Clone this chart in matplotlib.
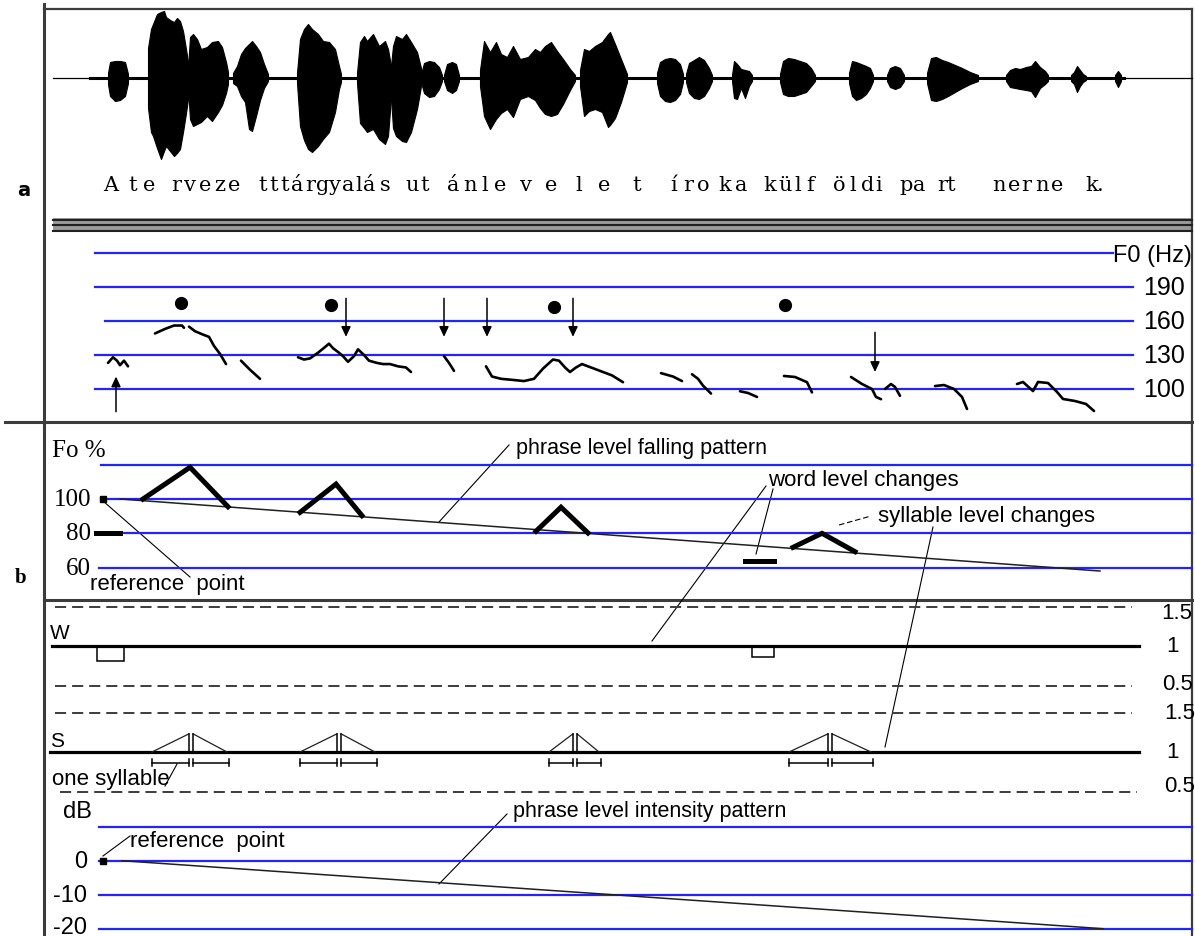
import matplotlib.pyplot as plt
from matplotlib.patches import Rectangle

plt.rcParams['lines.scale_dashes'] = False
plt.rcParams['font.family'] = ['Liberation Sans', 'DejaVu Sans']

W, H = 1195, 937
BLUE = '#2323ff'
GREY = '#3c3c3c'

### panel a: speech waveform, one envelope per burst (x = time in px, amplitude up / down) ###
bursts = [
    ([108, 110, 115, 120, 125, 128], [5, 16, 17, 17, 16, 4], [-6, -18, -23, -22, -18, -5]),
    ([148, 151, 153, 157, 161, 164, 166, 170, 174, 177, 180, 183, 186, 188],
     [30, 49, 54, 64, 66, 67, 61, 58, 56, 60, 57, 47, 29, 16],
     [-30, -54, -58, -70, -81, -73, -68, -73, -78, -75, -71, -54, -35, -21]),
    ([188, 190, 193, 197, 201, 207, 212, 218, 222, 226, 228],
     [10, 41, 44, 39, 29, 31, 36, 37, 31, 16, 6],
     [-10, -41, -48, -46, -44, -38, -43, -34, -27, -15, -6]),
    ([233, 237, 241, 245, 249, 252, 256, 260, 264, 268],
     [5, 12, 24, 30, 34, 37, 32, 26, 14, 4],
     [-5, -8, -18, -24, -51, -53, -38, -22, -10, -3]),
    ([297, 300, 304, 308, 312, 318, 323, 329, 335, 339, 341],
     [5, 39, 49, 54, 49, 44, 37, 36, 29, 12, 4],
     [-5, -48, -62, -71, -74, -68, -61, -54, -34, -11, -4]),
    ([357, 360, 364, 367, 373, 379, 385, 388, 391],
     [5, 36, 42, 37, 44, 32, 37, 29, 12],
     [-5, -45, -50, -54, -51, -61, -66, -58, -20]),
    ([391, 393, 396, 402, 406, 411, 417, 421],
     [12, 32, 42, 39, 44, 36, 26, 10],
     [-20, -50, -58, -63, -64, -54, -31, -8]),
    ([421, 424, 429, 434, 439, 442], [4, 15, 17, 16, 11, 3], [-4, -15, -19, -18, -11, -3]),
    ([444, 447, 452, 456, 459], [3, 14, 16, 14, 3], [-3, -12, -15, -12, -3]),
    ([480, 484, 490, 496, 501, 507, 513, 520, 528, 535],
     [8, 37, 26, 36, 24, 21, 32, 19, 21, 29],
     [-8, -38, -51, -41, -35, -31, -39, -21, -18, -22]),
    ([535, 540, 545, 551, 557, 563, 570, 575],
     [29, 26, 32, 36, 27, 19, 9, 3],
     [-22, -30, -36, -38, -36, -26, -12, -3]),
    ([580, 584, 589, 595, 602, 608, 610, 615, 621, 627],
     [8, 29, 27, 32, 36, 44, 46, 34, 19, 4],
     [-8, -38, -33, -31, -34, -49, -47, -40, -24, -4]),
    ([657, 660, 665, 670, 675, 680, 683], [5, 16, 19, 20, 19, 14, 4], [-5, -18, -23, -24, -22, -16, -4]),
    ([686, 689, 694, 699, 704, 709, 712], [4, 15, 18, 21, 18, 10, 3], [-4, -15, -20, -21, -18, -10, -3]),
    ([732, 734, 737, 741, 745, 749, 752], [3, 17, 14, 9, 8, 7, 3], [-3, -20, -21, -10, -20, -8, -3]),
    ([780, 783, 788, 794, 800, 806, 811, 815], [4, 17, 20, 19, 17, 15, 10, 3],
     [-4, -16, -18, -18, -16, -14, -8, -3]),
    ([849, 852, 856, 861, 866, 870, 873], [5, 17, 16, 14, 12, 10, 3], [-5, -18, -22, -20, -16, -10, -3]),
    ([887, 890, 895, 900, 904], [3, 10, 12, 10, 3], [-3, -9, -11, -9, -3]),
    ([927, 931, 936, 942, 948, 955, 962, 970, 978], [5, 20, 21, 18, 16, 13, 10, 6, 3],
     [-5, -22, -23, -21, -18, -14, -10, -6, -3]),
    ([1006, 1010, 1015, 1020, 1026, 1031, 1035, 1040, 1045, 1048], [3, 8, 10, 9, 11, 12, 17, 11, 7, 3],
     [-3, -9, -10, -11, -12, -13, -19, -10, -6, -3]),
    ([1071, 1074, 1077, 1080, 1083, 1086], [3, 6, 12, 8, 4, 2], [-3, -6, -14, -8, -4, -2]),
    ([1115, 1118, 1121], [3, 7, 3], [-3, -9, -3]),
]

cap_chars = list("Atervezetttárgyalásutánleveletírokakülföldipartnernek.")
cap_x = [103, 128, 143, 171, 184, 199, 214, 228, 258, 269, 280, 291, 305, 316, 329, 342, 355, 363, 380,
         405, 420, 447, 463, 481, 494, 520, 545, 575, 598, 632, 670, 683, 697, 718, 735, 763, 778, 794,
         806, 833, 849, 861, 875, 899, 913, 937, 946, 992, 1008, 1021, 1035, 1051, 1085, 1097]

### F0 (Hz) contour pieces ###
f0_segments = [
    ([108, 113, 117, 120, 124, 128], [123, 128, 125, 121, 125, 120]),
    ([155, 165, 174, 182, 184], [149, 153, 156, 156, 154]),
    ([189, 195, 203, 209, 214, 220, 226], [155, 151, 148, 146, 138, 131, 122]),
    ([241, 250, 260], [125, 117, 109]),
    ([298, 304, 310, 318, 325, 329, 333, 339, 343, 348, 354, 358, 364, 369, 377, 383, 390, 398, 406, 411],
     [128, 126, 127, 132, 137, 140, 136, 132, 129, 124, 129, 135, 130, 125, 123, 122, 122, 120, 119, 115]),
    ([444, 449, 454], [129, 123, 116]),
    ([486, 492, 501, 513, 524, 534, 543, 553, 559, 565, 570, 576, 582, 591, 600, 612, 623],
     [120, 111, 109, 108, 107, 109, 118, 126, 125, 119, 115, 119, 122, 119, 116, 112, 106]),
    ([661, 673, 682], [114, 111, 107]),
    ([692, 698, 703, 711], [113, 109, 103, 96]),
    ([740, 748, 757], [98, 96.5, 93]),
    ([784, 795, 807, 812], [111.5, 110.6, 106, 97]),
    ([851, 862, 872, 876, 881], [110.6, 104.4, 100, 93, 91]),
    ([885, 891, 895, 900], [100, 104.4, 101.8, 94]),
    ([935, 944, 954, 962, 967], [102.6, 103.5, 100, 93, 82.4]),
    ([1017, 1023, 1033, 1038, 1048, 1057, 1063, 1075, 1086, 1094],
     [104.4, 106.2, 98.2, 106.2, 105.3, 97.4, 91.2, 89.4, 86.8, 80.6]),
]
f0_grid = [100, 130, 160, 190]
accent_x = [181, 331, 554, 785]
accent_hz = [176, 174, 172, 174]
down_x = [346, 444, 487, 573, 875]
down_from = [180, 180, 180, 180, 150]
down_to = [146, 146, 146, 146, 115]
up_x, up_from, up_to = 116, 80, 111

### panel b: Fo % model ###
pct_grid = [120, 100, 80, 60]
phrase_x = [120, 1100]
phrase_pct = [100, 58]
tri_x = [(143, 190, 228), (300, 336, 362), (536, 561, 588), (793, 822, 855)]
tri_pct = [(100, 118.5, 95.5), (92.2, 108.7, 90.3), (81.2, 95.2, 80.2), (71.8, 80, 69.3)]
word_bar_x, word_bar_pct = (745, 774), 64

### W / S level rows ###
w_drop_x = [(97, 124), (752, 774)]
w_drop_level = [0.81, 0.86]
syl_start = [152, 300, 549, 789]
syl_mid = [189, 337, 573, 828]
syl_end = [227, 375, 599, 871]
syl_peak = 1.23

### dB panel ###
db_grid = [10, 0, -10, -20]
int_x = [122, 1103]
int_db = [0, -20]

### annotation leader lines (px) ###
leaders = [((509, 446), (439, 523)), ((766, 487), (652, 642)), ((773, 490), (756, 555)),
           ((933, 528), (885, 748)), ((103, 502), (190, 578)), ((507, 815), (439, 885)),
           ((103, 857), (130, 837)), ((165, 787), (177, 765))]


fig = plt.figure(figsize=(W / 100, H / 100), dpi=100)


def layer(v0, p0, k):
    # full-figure axes: value v0 sits on pixel row p0, k pixels per unit
    a = fig.add_axes([0, 0, 1, 1], facecolor='none')
    a.set_xlim(0, W)
    a.set_ylim(v0 + (p0 - H) / k, v0 + p0 / k)
    a.axis('off')
    return a


px = layer(0, 0, -1)
wav = layer(0, 79, 1)
hz = layer(100, 390, 34 / 30)
pct = layer(100, 500, 1.715)
wl = layer(1, 647, 79)
sl = layer(1, 753, 79)
db = layer(0, 861.7, 3.4)

# frame
px.plot([44, 44], [5, H], color=GREY, lw=2.2)
px.plot([44, 1192], [10, 10], color=GREY, lw=1.6)
px.plot([1192, 1192], [10, H], color=GREY, lw=1.6)
px.plot([5, 1192], [423, 423], color=GREY, lw=2.2)
px.plot([44, 1192], [601, 601], color=GREY, lw=2.2)
px.add_patch(Rectangle((53, 219), 1139, 14, color='#9a9a9a', lw=0))
for y in (220.5, 226, 231.5):
    px.plot([53, 1192], [y, y], color='#202020', lw=1.5)
px.text(24, 190, 'a', fontsize=14, fontweight='bold', family='DejaVu Sans', ha='center', va='center')
px.text(21, 578, 'b', fontsize=15, fontweight='bold', family='Liberation Serif', ha='center', va='center')

# waveform
wav.plot([53, 1192], [0, 0], color='k', lw=0.9)
wav.plot([90, 1124], [0, 0], color='k', lw=2.2)
for bx, up, dn in bursts:
    wav.fill_between(bx, dn, up, color='k', lw=0.8)
for ch, x in zip(cap_chars, cap_x):
    px.text(x, 191, ch, family='DejaVu Serif', fontsize=15, ha='left', va='baseline')

# F0 panel
hz.plot([95, 1113], [220, 220], color=BLUE, lw=1.6)
for v in f0_grid:
    hz.plot([105 if v == 160 else 95, 1133], [v, v], color=BLUE, lw=1.6)
    hz.text(1143, v, str(v), fontsize=18, ha='left', va='center')
hz.text(1113, 218, 'F0 (Hz)', fontsize=17, ha='left', va='center')
for sx, sv in f0_segments:
    hz.plot(sx, sv, color='k', lw=1.9, solid_capstyle='round')
hz.plot(accent_x, accent_hz, 'o', color='k', ms=8.5)
head = dict(arrowstyle='-|>,head_length=0.6,head_width=0.28', color='k', lw=1.1, shrinkA=0, shrinkB=0)
for x, a0, a1 in zip(down_x, down_from, down_to):
    hz.annotate('', xy=(x, a1), xytext=(x, a0), arrowprops=head)
hz.annotate('', xy=(up_x, up_to), xytext=(up_x, up_from), arrowprops=head)

# Fo % panel
for v in pct_grid:
    x0 = 120 if v == 80 else (99 if v == 60 else 101)
    pct.plot([x0, 1192], [v, v], color=BLUE, lw=1.6)
pct.plot([96, 120], [80, 80], color='k', lw=3.6)
pct.text(52, 100 + (500 - 451) / 1.715, 'Fo %', family='Liberation Serif', fontsize=18, ha='left', va='center')
for v in (100, 80, 60):
    pct.text(91, v, str(v), family='Liberation Serif', fontsize=18, ha='right', va='center')
pct.plot(phrase_x, phrase_pct, color='#202020', lw=1.1)
pct.plot([103], [100], 's', color='k', ms=4.5)
for tx, tv in zip(tri_x, tri_pct):
    pct.plot(tx, tv, color='k', lw=3.6, solid_joinstyle='miter')
pct.plot(word_bar_x, [word_bar_pct, word_bar_pct], color='k', lw=3.6)

# W / S rows
dash = dict(color=GREY, lw=1.4, linestyle=(0, (8, 4.3)))
wl.plot([55, 1132], [1.5, 1.5], **dash)
wl.plot([55, 1132], [0.5, 0.5], **dash)
wl.plot([52, 1139], [1, 1], color='k', lw=2.3)
for (x0, x1), lv in zip(w_drop_x, w_drop_level):
    wl.add_patch(Rectangle((x0, lv), x1 - x0, 1 - lv, fill=False, ec='k', lw=1.1))
sl.plot([55, 1132], [1.5, 1.5], **dash)
sl.plot([60, 1137], [0.5, 0.5], **dash)
sl.plot([50, 1139], [1, 1], color='k', lw=2.3)
for s0, sm, s1 in zip(syl_start, syl_mid, syl_end):
    sl.plot([s0, sm], [1, syl_peak], color='#202020', lw=0.9)
    sl.plot([sm + 4, s1], [syl_peak, 1], color='#202020', lw=0.9)
    sl.plot([sm, sm], [1, syl_peak], color='k', lw=1.1)
    sl.plot([sm + 4, sm + 4], [1, syl_peak], color='k', lw=1.1)
    for b0, b1 in ((s0, sm), (sm + 4, s1 + 2)):
        sl.plot([b0, b1], [0.867, 0.867], color='k', lw=1.1)
        for bx in (b0, b1):
            sl.plot([bx, bx], [0.82, 0.915], color='k', lw=1.1)
wl.text(50, 1.17, 'W', fontsize=15, ha='left', va='center')
sl.text(50, 1.15, 'S', fontsize=15, ha='left', va='center')
for lay, labs in ((wl, ((1161, 1.42, '1.5'), (1166, 1.0, '1'), (1162, 0.52, '0.5'))),
                  (sl, ((1164, 1.5, '1.5'), (1166, 1.01, '1'), (1164, 0.58, '0.5')))):
    for x, v, s in labs:
        lay.text(x, v, s, fontsize=16, ha='left', va='center')
px.text(52, 780, 'one syllable', fontsize=16, ha='left', va='center')

# dB panel
for v in db_grid:
    db.plot([99, 1192], [v, v], color=BLUE, lw=1.6)
db.text(92, 0 + (861.7 - 812) / 3.4, 'dB', fontsize=17, ha='right', va='center')
for v in (0, -10, -20):
    db.text(87, v if v > -20 else -19.4, str(v), fontsize=17, ha='right', va='center')
db.plot(int_x, int_db, color='#202020', lw=1.1)
db.plot([103], [0], 's', color='k', ms=4.5)

# annotations
for (x0, y0), (x1, y1) in leaders:
    px.plot([x0, x1], [y0, y1], color='k', lw=0.8)
px.plot([839, 871], [526, 517], color='k', lw=0.8, linestyle=(0, (4, 2)))
px.text(516, 449, 'phrase level falling pattern', fontsize=15.5, ha='left', va='center')
px.text(768, 481, 'word level changes', fontsize=16, ha='left', va='center')
px.text(878, 517, 'syllable level changes', fontsize=16, ha='left', va='center')
px.text(90, 585, 'reference  point', fontsize=16, ha='left', va='center')
px.text(513, 812, 'phrase level intensity pattern', fontsize=15.5, ha='left', va='center')
px.text(130, 842, 'reference  point', fontsize=16, ha='left', va='center')

fig.savefig('out.png', dpi=100, facecolor='white')
